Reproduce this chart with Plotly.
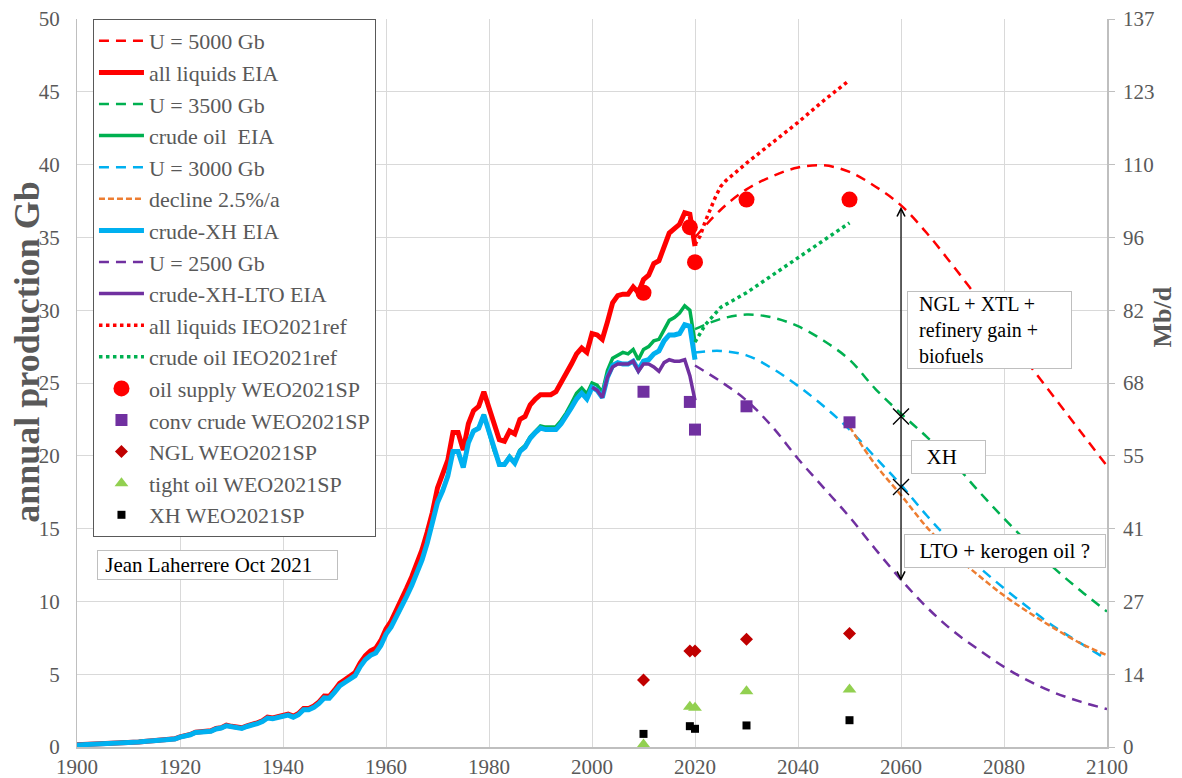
import plotly.graph_objects as go

# ---------------- data ----------------
HIST_YEARS = list(range(1900, 2021))

ALL_LIQUIDS_EIA = [
    0.15, 0.16, 0.18, 0.19, 0.21, 0.21, 0.21, 0.26, 0.28, 0.30,
    0.33, 0.34, 0.35, 0.38, 0.40, 0.43, 0.46, 0.50, 0.51, 0.56,
    0.70, 0.77, 0.86, 1.02, 1.02, 1.08, 1.11, 1.27, 1.33, 1.50,
    1.42, 1.38, 1.32, 1.45, 1.53, 1.66, 1.80, 2.05, 2.00, 2.10,
    2.18, 2.26, 2.12, 2.30, 2.65, 2.65, 2.82, 3.10, 3.50, 3.48,
    3.90, 4.38, 4.62, 4.90, 5.12, 5.78, 6.28, 6.60, 6.78, 7.32,
    8.10, 8.65, 9.35, 10.10, 10.90, 11.70, 12.65, 13.55, 14.75, 16.10,
    17.80, 18.70, 19.70, 21.60, 21.60, 20.40, 22.20, 23.10, 23.40, 24.40,
    23.30, 22.00, 21.10, 21.00, 21.70, 21.50, 22.50, 22.70, 23.50, 23.90,
    24.20, 24.20, 24.20, 24.40, 25.00, 25.60, 26.30, 27.00, 27.40, 27.10,
    28.40, 28.30, 28.00, 29.20, 30.50, 31.00, 31.10, 31.10, 31.60, 31.20,
    32.10, 32.40, 33.20, 33.40, 34.30, 35.30, 35.60, 35.90, 36.70, 36.60,
    34.40,
]

CRUDE_EIA = [
    0.14, 0.16, 0.17, 0.19, 0.20, 0.21, 0.20, 0.25, 0.27, 0.30,
    0.32, 0.33, 0.35, 0.37, 0.40, 0.42, 0.45, 0.49, 0.51, 0.55,
    0.69, 0.76, 0.85, 1.01, 1.01, 1.06, 1.09, 1.25, 1.31, 1.47,
    1.39, 1.35, 1.29, 1.42, 1.50, 1.62, 1.76, 2.00, 1.95, 2.05,
    2.12, 2.20, 2.06, 2.23, 2.57, 2.57, 2.73, 3.00, 3.38, 3.36,
    3.76, 4.21, 4.44, 4.71, 4.91, 5.53, 6.01, 6.31, 6.47, 6.98,
    7.77, 8.27, 8.92, 9.62, 10.37, 11.12, 12.02, 12.87, 14.02, 15.32,
    16.83, 17.63, 18.63, 20.33, 20.33, 19.23, 20.93, 21.73, 21.93, 22.84,
    21.65, 20.35, 19.45, 19.46, 19.97, 19.58, 20.39, 20.70, 21.31, 21.72,
    22.05, 21.97, 21.98, 22.00, 22.42, 22.95, 23.60, 24.30, 24.65, 24.25,
    25.00, 24.85, 24.35, 25.85, 26.70, 26.90, 27.10, 27.00, 27.30, 26.60,
    27.30, 27.50, 27.90, 28.00, 28.70, 29.30, 29.50, 29.80, 30.30, 30.00,
    27.80,
]

CRUDE_XH_EIA = [
    0.14, 0.15, 0.17, 0.18, 0.20, 0.20, 0.20, 0.25, 0.27, 0.29,
    0.32, 0.33, 0.34, 0.37, 0.39, 0.42, 0.45, 0.49, 0.50, 0.55,
    0.68, 0.75, 0.84, 1.00, 1.00, 1.05, 1.08, 1.24, 1.30, 1.46,
    1.38, 1.34, 1.28, 1.41, 1.49, 1.61, 1.75, 1.99, 1.94, 2.04,
    2.11, 2.19, 2.05, 2.22, 2.56, 2.56, 2.72, 2.99, 3.37, 3.35,
    3.75, 4.20, 4.43, 4.70, 4.90, 5.52, 6.00, 6.30, 6.46, 6.97,
    7.75, 8.25, 8.90, 9.60, 10.35, 11.10, 12.00, 12.85, 14.00, 15.30,
    16.80, 17.60, 18.60, 20.30, 20.30, 19.20, 20.90, 21.70, 21.90, 22.80,
    21.60, 20.30, 19.40, 19.40, 19.90, 19.50, 20.30, 20.60, 21.20, 21.60,
    21.90, 21.80, 21.80, 21.80, 22.20, 22.70, 23.30, 23.90, 24.30, 23.90,
    24.70, 24.50, 24.00, 25.40, 26.20, 26.40, 26.30, 26.30, 26.50, 25.90,
    26.50, 26.60, 27.00, 27.20, 27.90, 28.30, 28.30, 28.40, 29.00, 28.90,
    26.60,
]

LTO_YEARS = list(range(2000, 2021))
CRUDE_XH_LTO_EIA = [
    24.70, 24.50, 24.00, 25.40, 26.10, 26.30, 26.30, 26.30, 26.50, 25.80,
    26.30, 26.30, 26.10, 25.80, 26.40, 26.60, 26.50, 26.50, 26.60, 25.50,
    23.80,
]

FC_YEARS = [2020, 2025, 2030, 2035, 2040, 2045, 2050, 2055, 2060,
            2065, 2070, 2075, 2080, 2085, 2090, 2095, 2100]
U5000 = [35.0, 36.9, 38.3, 39.2, 39.8, 39.95, 39.5, 38.5, 37.2,
         35.3, 33.1, 30.8, 28.5, 26.2, 23.9, 21.6, 19.3]
U3500 = [28.7, 29.4, 29.7, 29.5, 28.9, 27.9, 26.6, 24.6, 22.9,
         21.3, 19.6, 17.6, 15.7, 13.9, 12.2, 10.7, 9.3]
U3000 = [27.1, 27.2, 26.9, 26.0, 24.8, 23.4, 21.8, 19.9, 18.0,
         15.9, 14.0, 12.4, 10.9, 9.5, 8.2, 7.1, 6.0]
U2500 = [26.2, 25.1, 23.8, 22.0, 19.8, 17.8, 15.8, 13.6, 11.5,
         9.6, 8.0, 6.7, 5.5, 4.5, 3.7, 3.1, 2.6]

DECLINE_YEARS = [2050, 2055, 2060, 2065, 2070, 2075, 2080, 2085, 2090, 2095, 2100]
DECLINE_25 = [22.0, 19.4, 17.3, 15.1, 13.3, 11.8, 10.4, 9.2, 8.1, 7.1, 6.3]

IEO_YEARS = [2020, 2021, 2022, 2023, 2024, 2025, 2026, 2027, 2028, 2029,
             2030, 2035, 2040, 2045, 2050]
IEO_ALL_LIQUIDS = [34.5, 35.1, 36.1, 37.0, 37.8, 38.5, 38.9, 39.2, 39.5, 39.8,
                   40.1, 41.5, 42.9, 44.4, 45.8]
IEO_CRUDE = [27.8, 28.4, 29.0, 29.4, 29.8, 30.2, 30.4, 30.6, 30.8, 31.0,
             31.2, 32.4, 33.6, 34.8, 36.0]

WEO_YEARS = [2010, 2019, 2020, 2030, 2050]
WEO_OIL_SUPPLY = [31.2, 35.7, 33.3, 37.6, 37.6]
WEO_CONV_CRUDE = [24.4, 23.7, 21.8, 23.4, 22.3]
WEO_NGL = [4.6, 6.6, 6.6, 7.4, 7.8]
WEO_TIGHT = [0.17, 2.76, 2.69, 3.83, 3.95]
WEO_XH = [0.9, 1.43, 1.25, 1.48, 1.84]

CROSS_YEARS = [2060, 2060]
CROSS_VALUES = [22.7, 17.86]
ARROW_YEAR = 2060
ARROW_TOP = 37.2
ARROW_BOTTOM = 11.4

X_TICKS = [1900, 1920, 1940, 1960, 1980, 2000, 2020, 2040, 2060, 2080, 2100]
GB_TICKS = [0, 5, 10, 15, 20, 25, 30, 35, 40, 45, 50]
MBD_LABELS = ['0', '14', '27', '41', '55', '68', '82', '96', '110', '123', '137']

# ---------------- styles ----------------
RED = '#FF0000'
GREEN = '#00B050'
BLUE = '#00B0F0'
ORANGE = '#ED7D31'
PURPLE = '#7030A0'
GRAY_TXT = '#595959'
FONT = 'Liberation Serif'
DASH_U = '10px,7px'
DASH_DEC = '6px,3px'

fig = go.Figure()


def line(x, y, name, color, width, dash='solid', shape='linear'):
    fig.add_trace(go.Scatter(x=x, y=y, name=name, mode='lines',
                             line=dict(color=color, width=width, dash=dash, shape=shape)))


line(FC_YEARS, U5000, 'U = 5000 Gb', RED, 2.5, DASH_U, 'spline')
line(HIST_YEARS, ALL_LIQUIDS_EIA, 'all liquids EIA', RED, 5)
line(FC_YEARS, U3500, 'U = 3500 Gb', GREEN, 2.5, DASH_U, 'spline')
line(HIST_YEARS, CRUDE_EIA, 'crude oil  EIA', GREEN, 3.5)
line(FC_YEARS, U3000, 'U = 3000 Gb', BLUE, 2.5, DASH_U, 'spline')
line(DECLINE_YEARS, DECLINE_25, 'decline 2.5%/a', ORANGE, 2.5, DASH_DEC, 'spline')
line(HIST_YEARS, CRUDE_XH_EIA, 'crude-XH EIA', BLUE, 5)
line(FC_YEARS, U2500, 'U = 2500 Gb', PURPLE, 2.5, DASH_U, 'spline')
line(LTO_YEARS, CRUDE_XH_LTO_EIA, 'crude-XH-LTO EIA', PURPLE, 3.5)
line(IEO_YEARS, IEO_ALL_LIQUIDS, 'all liquids IEO2021ref', RED, 3.5, 'dot')
line(IEO_YEARS, IEO_CRUDE, 'crude oil IEO2021ref', GREEN, 3.5, 'dot')


def markers(y, name, color, symbol, size):
    fig.add_trace(go.Scatter(x=WEO_YEARS, y=y, name=name, mode='markers',
                             marker=dict(color=color, symbol=symbol, size=size,
                                         line=dict(width=0))))


markers(WEO_OIL_SUPPLY, 'oil supply WEO2021SP', RED, 'circle', 16)
markers(WEO_CONV_CRUDE, 'conv crude WEO2021SP', PURPLE, 'square', 12)
markers(WEO_NGL, 'NGL WEO2021SP', '#C00000', 'diamond', 10)
markers(WEO_TIGHT, 'tight oil WEO2021SP', '#92D050', 'triangle-up', 12)
markers(WEO_XH, 'XH WEO2021SP', '#000000', 'square', 8)

fig.add_trace(go.Scatter(x=CROSS_YEARS, y=CROSS_VALUES, mode='markers', showlegend=False,
                         marker=dict(symbol='x-thin', size=16,
                                     line=dict(color='black', width=1.4))))
fig.add_trace(go.Scatter(x=[], y=[], yaxis='y2', showlegend=False))

box_font = dict(family=FONT, size=21, color='black')
NB = '\u00a0'
annotations = [
    dict(x=ARROW_YEAR, y=ARROW_BOTTOM, ax=ARROW_YEAR, ay=ARROW_TOP,
         xref='x', yref='y', axref='x', ayref='y', text='', showarrow=True,
         arrowhead=5, startarrowhead=5, arrowside='end+start', arrowsize=1.3,
         startarrowsize=1.3, arrowwidth=1.2, arrowcolor='black', standoff=0, startstandoff=0),
    dict(x=1903.9, y=13.55, xref='x', yref='y', xanchor='left', yanchor='top',
         text=NB + 'Jean Laherrere Oct 2021', showarrow=False, align='left',
         width=235, borderpad=2, bordercolor='#BFBFBF', borderwidth=1,
         bgcolor='white', font=box_font),
    dict(x=2061.2, y=31.33, xref='x', yref='y', xanchor='left', yanchor='top',
         text=NB * 2 + 'NGL + XTL +<br>' + NB * 2 + 'refinery gain +<br>' + NB * 2 + 'biofuels',
         showarrow=False, align='left', width=161, borderpad=1,
         bordercolor='#BFBFBF', borderwidth=1, bgcolor='white',
         font=dict(family=FONT, size=20, color='black')),
    dict(x=2061.9, y=21.1, xref='x', yref='y', xanchor='left', yanchor='top',
         text=NB * 2 + 'XH', showarrow=False, align='left', width=65, borderpad=4,
         bordercolor='#BFBFBF', borderwidth=1, bgcolor='white', font=box_font),
    dict(x=2060.6, y=14.65, xref='x', yref='y', xanchor='left', yanchor='top',
         text=NB * 2 + 'LTO + kerogen oil ?', showarrow=False, align='left', width=192,
         borderpad=4, bordercolor='#BFBFBF', borderwidth=1, bgcolor='white', font=box_font),
    dict(x=0, y=0.5415, xref='paper', yref='paper', xshift=-50, xanchor='center',
         yanchor='middle', text='<b>annual production Gb</b>',
         textangle=-90, showarrow=False, font=dict(family=FONT, size=36, color=GRAY_TXT)),
    dict(x=1, y=0.59, xref='paper', yref='paper', xshift=55, xanchor='center',
         yanchor='middle', text='<b>Mb/d</b>',
         textangle=-90, showarrow=False, font=dict(family=FONT, size=26, color=GRAY_TXT)),
]

tick_font = dict(family=FONT, size=21, color=GRAY_TXT)
fig.update_layout(
    width=1182, height=778,
    margin=dict(l=77, r=75, t=19, b=31, autoexpand=False),
    paper_bgcolor='white', plot_bgcolor='white',
    font=dict(family=FONT, size=21, color=GRAY_TXT),
    showlegend=True,
    legend=dict(x=0.0155, y=1, xanchor='left', yanchor='top',
                bgcolor='white', bordercolor='#595959', borderwidth=1,
                font=dict(family=FONT, size=22, color=GRAY_TXT),
                itemwidth=45, tracegroupgap=0),
    xaxis=dict(range=[1900, 2100], tickvals=X_TICKS, showgrid=True, gridcolor='#D9D9D9',
               gridwidth=1, showline=True, linecolor='#BFBFBF', linewidth=1.5,
               zeroline=False, ticks='', tickfont=tick_font, automargin=False),
    yaxis=dict(range=[0, 50], tickvals=GB_TICKS, showgrid=True, gridcolor='#D9D9D9',
               gridwidth=1, showline=True, linecolor='#BFBFBF', linewidth=1,
               zeroline=False, ticks='', tickfont=tick_font, ticklabelstandoff=12,
               automargin=False),
    yaxis2=dict(range=[0, 50], overlaying='y', side='right', tickvals=GB_TICKS,
                ticktext=MBD_LABELS, showgrid=False, showline=True, linecolor='#BFBFBF',
                linewidth=1.5, zeroline=False, ticks='outside', ticklen=6,
                tickcolor='#BFBFBF', tickfont=tick_font, ticklabelstandoff=4,
                automargin=False),
    annotations=annotations,
)

fig.write_html('out.html', config={'displayModeBar': False},
               post_script="document.body.style.margin='0px';document.body.style.overflow='hidden';")
